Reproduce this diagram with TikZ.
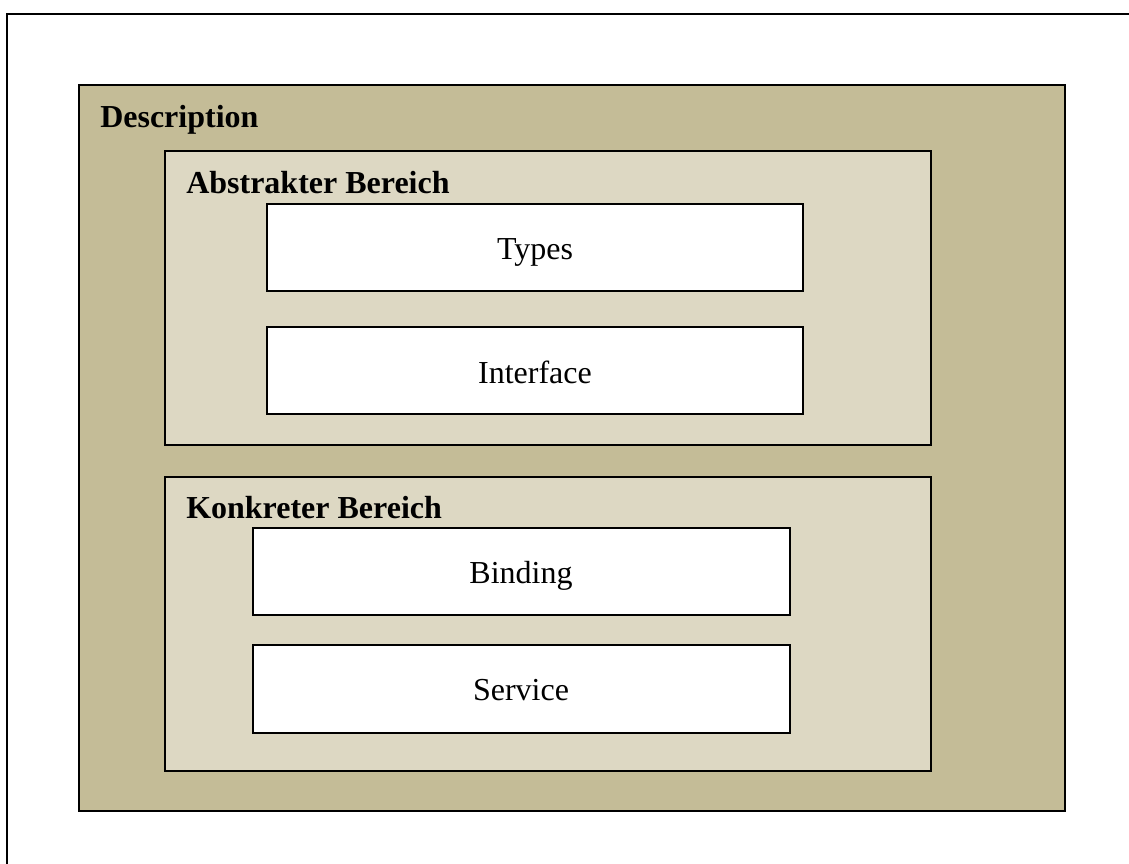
\documentclass[tikz,border=0pt]{standalone}
\usepackage{fontspec}
\setmainfont{Liberation Serif}
\definecolor{outerfill}{RGB}{196,188,151}
\definecolor{innerfill}{RGB}{221,216,195}
\begin{document}
\begin{tikzpicture}[x=0.75pt,y=-0.75pt,
  frame/.style={draw=black,line width=1.5pt},
  outerbox/.style={draw=black,line width=1.5pt,fill=outerfill},
  areabox/.style={draw=black,line width=1.5pt,fill=innerfill},
  itembox/.style={draw=black,line width=1.5pt,fill=white},
  headtxt/.style={anchor=base west,inner sep=0pt,font=\fontsize{24}{28}\selectfont\bfseries},
  itemtxt/.style={anchor=base,inner sep=0pt,font=\fontsize{24}{28}\selectfont}]
\useasboundingbox (0,0) rectangle (1129,864);
\fill[white] (0,0) rectangle (1129,864);
\coordinate (fl) at (7,864);
\coordinate (ft) at (7,14);
\coordinate (fr) at (1129,14);
\draw[frame] (fl) -- (ft) -- (fr);
\draw[outerbox] (79,85) rectangle (1065,811);
\node[headtxt] (desc) at (100,127) {Description};
\draw[areabox] (165,151) rectangle (931,445);
\node[headtxt] (abs) at (186,193) {Abstrakter Bereich};
\draw[itembox] (267,204) rectangle (803,291);
\node[itemtxt] (types) at (535,259) {Types};
\draw[itembox] (267,327) rectangle (803,414);
\node[itemtxt] (iface) at (535,383) {Interface};
\draw[areabox] (165,477) rectangle (931,771);
\node[headtxt] (konk) at (186,518) {Konkreter Bereich};
\draw[itembox] (253,528) rectangle (790,615);
\node[itemtxt] (bind) at (521,583) {Binding};
\draw[itembox] (253,645) rectangle (790,733);
\node[itemtxt] (serv) at (521,700) {Service};
\end{tikzpicture}
\end{document}
